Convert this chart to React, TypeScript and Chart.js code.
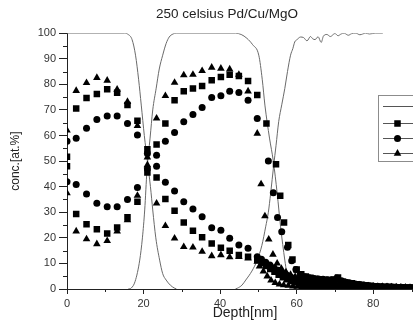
import React, { useEffect, useRef } from 'react';
import { Chart, registerables } from 'chart.js';

Chart.register(...registerables);

const FONT = '"Liberation Sans", Arial, Helvetica, sans-serif';

// ---- Depth grid of the marker series (nm) ----
const depth = [0, 2.4, 5.1, 7.8, 10.5, 13.1, 15.8, 18.4, 21.0, 23.4, 25.7, 28.1, 30.5, 32.9, 35.3, 37.8, 40.2, 42.5, 44.9, 47.3, 49.7];

// triangles
const triPd = [62, 77.5, 80.6, 82.6, 81.5, 78.0, 73.2, 63.8, 51.5, 33.5, 24.7, 19.8, 16.5, 16.3, 14.6, 12.9, 13.3, 12.5, 12.6, 12.0, 10.7];
const triCu = [37.5, 22.6, 19.5, 17.6, 18.8, 22.6, 27.0, 36.5, 48.5, 66.7, 75.5, 80.7, 83.6, 83.8, 85.3, 86.6, 86.2, 85.9, 83.8, 77.3, 60.8];
const triCuTailDepth = [50.7, 51.7, 52.7, 53.8, 54.9, 56.0, 57.2, 58.4, 59.6, 60.8, 62.0, 63.2, 64.4, 65.6, 66.8, 68.0, 69.2, 70.4, 71.6, 72.8, 74.0, 75.2, 76.4, 77.6, 78.8, 80.0, 81.2, 82.4, 83.6, 84.8, 86.0, 87.2, 88.4, 89.6, 90.8, 92.0];
const triCuTail = [41, 28.5, 19.4, 13.5, 10.0, 8.0, 6.6, 5.6, 4.8, 4.3, 3.9, 3.6, 3.4, 3.5, 3.2, 3.0, 3.1, 3.3, 2.6, 2.2, 1.9, 1.7, 1.5, 1.3, 1.1, 1.0, 0.9, 0.9, 0.8, 0.7, 0.7, 0.6, 0.6, 0.5, 0.5, 0.4];
const triPdTailDepth = [50.3, 51.3, 52.3, 53.3, 54.4, 55.5, 56.6, 57.8, 59.0, 60.2, 61.4, 62.6, 63.8, 65.0, 66.2, 67.4, 68.6, 69.8, 71.0, 72.2, 73.4, 74.6, 75.8, 77.0, 78.2, 79.4, 80.6, 81.8, 83.0, 84.2, 85.4, 86.6, 87.8, 89.0, 90.2, 91.4];
const triPdTail = [8.9, 6.9, 5.0, 3.4, 2.4, 1.8, 1.5, 1.3, 1.1, 1.0, 0.9, 0.9, 0.8, 0.8, 0.7, 0.7, 0.6, 0.7, 0.6, 0.5, 0.5, 0.5, 0.4, 0.4, 0.4, 0.3, 0.3, 0.3, 0.3, 0.2, 0.2, 0.2, 0.2, 0.2, 0.1, 0.1];

// squares
const sqPd = [51.7, 70.6, 74.7, 76.2, 78.1, 76.7, 71.9, 65.8, 54.6, 43.6, 35.2, 30.6, 26.0, 22.8, 20.2, 17.8, 16.1, 15.0, 13.3, 12.6, 11.3];
const sqCu = [48.0, 29.3, 25.3, 23.4, 21.7, 24.0, 28.0, 34.1, 45.5, 56.5, 64.7, 73.8, 77.3, 78.4, 79.4, 81.6, 82.9, 83.8, 83.3, 81.3, 75.8];
const sqCuTailDepth = [52.1, 54.6, 55.7, 56.7, 57.8, 58.9, 60.0, 61.2, 62.4, 63.6, 64.8, 66.0, 67.2, 68.4, 69.6, 70.8, 72.0, 73.2, 74.4, 75.6, 76.8, 78.0, 79.2, 80.4, 81.6, 82.8, 84.0, 85.2, 86.4, 87.6, 88.8, 90.0, 91.2, 92.4];
const sqCuTail = [64.7, 48.8, 36.5, 26.0, 17.2, 11.5, 7.6, 5.8, 4.9, 4.4, 4.0, 3.8, 3.6, 3.5, 3.7, 4.5, 2.9, 2.5, 2.2, 1.9, 1.7, 1.5, 1.3, 1.1, 1.0, 0.9, 0.9, 0.8, 0.7, 0.7, 0.6, 0.6, 0.5, 0.5];
const sqPdTailDepth = [50.9, 52.0, 53.1, 54.2, 55.3, 56.4, 57.5, 58.6, 59.8, 61.0, 62.2, 63.4, 64.6, 65.8, 67.0, 68.2, 69.4, 70.6, 71.8, 73.0, 74.2, 75.4, 76.6, 77.8, 79.0, 80.2, 81.4, 82.6, 83.8, 85.0, 86.2, 87.4, 88.6, 89.8, 91.0, 92.2];
const sqPdTail = [10.2, 9.0, 7.8, 6.7, 5.6, 4.6, 3.8, 3.1, 2.6, 2.2, 1.9, 1.7, 1.6, 1.5, 1.4, 1.3, 1.2, 1.2, 1.0, 0.9, 0.8, 0.8, 0.7, 0.6, 0.6, 0.5, 0.5, 0.5, 0.4, 0.4, 0.3, 0.3, 0.3, 0.3, 0.2, 0.2];

// circles
const ciPd = [57.8, 58.9, 62.8, 66.3, 67.6, 67.6, 64.7, 60.2, 53.0, 48.0, 41.7, 38.3, 34.1, 31.3, 28.2, 23.9, 23.0, 19.8, 17.2, 15.9, 12.6];
const ciCu = [41.9, 40.9, 37.1, 33.5, 32.2, 32.2, 35.0, 39.7, 47.0, 52.3, 57.8, 61.2, 65.4, 68.2, 71.0, 74.9, 75.5, 77.3, 76.8, 73.8, 66.7];
const ciCuTailDepth = [52.6, 53.9, 55.0, 56.1, 57.6, 58.7, 59.8, 60.9, 62.1, 63.3, 64.5, 65.7, 66.9, 68.1, 69.3, 70.5, 71.7, 72.9, 74.1, 75.3, 76.5, 77.7, 78.9, 80.1, 81.3, 82.5, 83.7, 84.9, 86.1, 87.3, 88.5, 89.7, 90.9, 92.1];
const ciCuTail = [50.0, 37.6, 28.0, 22.4, 16.3, 11.0, 7.6, 5.6, 4.8, 4.4, 4.1, 3.9, 3.8, 3.6, 3.5, 4.3, 3.2, 2.6, 2.2, 2.0, 1.8, 1.5, 1.3, 1.1, 1.0, 0.9, 0.9, 0.8, 0.7, 0.7, 0.6, 0.6, 0.5, 0.5];
const ciPdTailDepth = [50.8, 51.9, 53.0, 54.1, 55.2, 56.3, 57.4, 58.5, 59.6, 60.7, 61.8, 62.9, 64.0, 65.2, 66.4, 67.6, 68.8, 70.0, 71.2, 72.4, 73.6, 74.8, 76.0, 77.2, 78.4, 79.6, 80.8, 82.0, 83.2, 84.4, 85.6, 86.8, 88.0, 89.2, 90.4, 91.6];
const ciPdTail = [11.6, 10.5, 9.4, 8.3, 7.3, 6.3, 5.4, 4.6, 3.9, 3.4, 3.0, 2.7, 2.5, 2.3, 2.1, 2.0, 1.9, 1.8, 1.6, 1.5, 1.3, 1.2, 1.1, 1.0, 0.9, 0.8, 0.7, 0.7, 0.6, 0.6, 0.5, 0.5, 0.4, 0.4, 0.3, 0.3];

// ---- Profile lines ----
const pdLineDepth = [0, 15, 16, 17, 17.9, 18.7, 19.4, 20.2, 21.0, 21.8, 22.4, 23.2, 24.2, 25.0, 25.9, 27.0, 28.0, 28.6];
const pdLineConc = [100, 100, 99.5, 97.5, 91.4, 82, 71.9, 60, 50, 40, 30.9, 20, 11.3, 6, 3.5, 1.5, 0.4, 0];
const cuLineDepth = [16, 16.8, 17.8, 19.0, 19.7, 20.3, 20.9, 21.7, 22.4, 23.3, 24.1, 25.0, 25.9, 26.7, 27.7, 28.5, 44.0, 45.5, 47.0, 48.5, 50.1, 51.0, 51.7, 52.9, 53.9, 54.9, 55.8, 56.9, 57.9, 59.0, 60.0];
const cuLineConc = [0, 0.4, 3, 11.3, 20, 30.9, 46.5, 59, 70, 78.5, 86, 91.4, 96, 98.5, 99.7, 100, 100, 99.5, 98, 95.5, 91.4, 82, 71.9, 59, 50, 37.5, 24.3, 11.3, 2.3, 0.5, 0];
const mgoLineDepth = [44, 44.5, 45.7, 46.7, 48.3, 49.7, 50.9, 51.9, 52.6, 53.2, 54.0, 54.6, 55.3, 56.1, 56.9, 57.6, 58.4, 59.0, 59.5, 60.1, 61.0, 61.8, 62.7, 63.6, 64.2, 64.8, 65.6, 66.4, 67.0, 67.9, 68.8, 70.0, 70.8, 71.6, 72.4, 73.5, 74.3, 75.5, 76.5, 78.0, 79.0, 80.5, 82.5];
const mgoLineConc = [0, 0.3, 1.5, 3.5, 7, 11.3, 17, 24.3, 30, 37.4, 48.4, 56, 65.4, 72, 78.4, 85, 91.4, 94, 96.6, 97.5, 98.5, 98.3, 97, 98.7, 97.8, 97.5, 98.6, 96.4, 98.9, 99.5, 98.7, 99.9, 99, 99.7, 100, 99.2, 99.8, 100, 99.4, 100, 99.7, 100, 100];

const yTicks = [0, 10, 20, 30, 40, 50, 60, 70, 80, 90, 100];
const yMinorTicks = [5, 15, 25, 35, 45, 55, 65, 75, 85, 95];
const xMinorTicks = [10, 30, 50, 70, 90];

const R_TRI = 4.4;
const R_RECT = 4.6;
const R_CIRC = 3.5;

const pts = (xs: number[], ys: number[]) => xs.map((x, i) => ({ x, y: ys[i] }));

const markerSet = (label: string, data: { x: number; y: number }[], style: string, r: number) => ({
  label,
  data,
  showLine: false,
  pointStyle: style,
  pointRadius: r,
  pointHoverRadius: r,
  pointBackgroundColor: '#000',
  pointBorderColor: '#000',
  pointBorderWidth: 0,
  borderColor: '#000',
  backgroundColor: '#000',
});

const lineSet = (label: string, data: { x: number; y: number }[]) => ({
  label,
  data,
  showLine: true,
  pointRadius: 0,
  borderColor: '#6a6a6a',
  borderWidth: 1,
  cubicInterpolationMode: 'monotone',
  fill: false,
});

const minorTicksPlugin = {
  id: 'minorTicks',
  afterDraw(chart: any) {
    const { ctx, scales, chartArea } = chart;
    ctx.save();
    ctx.strokeStyle = '#222';
    ctx.lineWidth = 1;
    yMinorTicks.forEach((v) => {
      const y = Math.round(scales.y.getPixelForValue(v)) + 0.5;
      ctx.beginPath();
      ctx.moveTo(chartArea.left - 4, y);
      ctx.lineTo(chartArea.left, y);
      ctx.stroke();
    });
    xMinorTicks.forEach((v) => {
      const x = Math.round(scales.x.getPixelForValue(v)) + 0.5;
      ctx.beginPath();
      ctx.moveTo(x, chartArea.bottom);
      ctx.lineTo(x, chartArea.bottom + 3);
      ctx.stroke();
    });
    ctx.restore();
  },
};

const legendBoxPlugin = {
  id: 'legendBox',
  afterDraw(chart: any) {
    const ctx = chart.ctx;
    const left = 378.5;
    const top = 95.5;
    ctx.save();
    ctx.fillStyle = '#fff';
    ctx.fillRect(left, top, 74, 66);
    ctx.strokeStyle = '#8c8c8c';
    ctx.lineWidth = 1;
    ctx.strokeRect(left, top, 74, 66);
    const rows = [106, 123, 138, 153];
    ctx.strokeStyle = '#555';
    rows.forEach((y) => {
      ctx.beginPath();
      ctx.moveTo(383, y + 0.5);
      ctx.lineTo(420, y + 0.5);
      ctx.stroke();
    });
    const mx = 397.5;
    ctx.fillStyle = '#000';
    const s = R_RECT * Math.SQRT1_2;
    ctx.fillRect(mx - s, 123.5 - s, 2 * s, 2 * s);
    ctx.beginPath();
    ctx.arc(mx, 138.5, R_CIRC, 0, Math.PI * 2);
    ctx.fill();
    ctx.beginPath();
    const ty = 153.5;
    ctx.moveTo(mx, ty - R_TRI);
    ctx.lineTo(mx + R_TRI * Math.sin((2 * Math.PI) / 3), ty + R_TRI / 2);
    ctx.lineTo(mx - R_TRI * Math.sin((2 * Math.PI) / 3), ty + R_TRI / 2);
    ctx.closePath();
    ctx.fill();
    ctx.restore();
  },
};

export default function App() {
  const ref = useRef<HTMLCanvasElement>(null);

  useEffect(() => {
    const canvas = ref.current;
    if (!canvas) return;
    const datasets: any[] = [
      markerSet('triangle Pd', [...pts(depth, triPd), ...pts(triPdTailDepth, triPdTail)], 'triangle', R_TRI),
      markerSet('triangle Cu', [...pts(depth, triCu), ...pts(triCuTailDepth, triCuTail)], 'triangle', R_TRI),
      markerSet('square Pd', [...pts(depth, sqPd), ...pts(sqPdTailDepth, sqPdTail)], 'rect', R_RECT),
      markerSet('square Cu', [...pts(depth, sqCu), ...pts(sqCuTailDepth, sqCuTail)], 'rect', R_RECT),
      markerSet('circle Pd', [...pts(depth, ciPd), ...pts(ciPdTailDepth, ciPdTail)], 'circle', R_CIRC),
      markerSet('circle Cu', [...pts(depth, ciCu), ...pts(ciCuTailDepth, ciCuTail)], 'circle', R_CIRC),
      lineSet('Pd', pts(pdLineDepth, pdLineConc)),
      lineSet('Cu', pts(cuLineDepth, cuLineConc)),
      lineSet('MgO', pts(mgoLineDepth, mgoLineConc)),
    ];

    const chart = new Chart(canvas, {
      type: 'scatter',
      data: { datasets },
      plugins: [minorTicksPlugin, legendBoxPlugin],
      options: {
        responsive: false,
        animation: false,
        events: [],
        devicePixelRatio: 1,
        layout: { padding: { left: 0, right: 0, top: 0, bottom: 0 } },
        plugins: {
          legend: { display: false },
          tooltip: { enabled: false },
          title: {
            display: true,
            text: '250 celsius Pd/Cu/MgO',
            color: '#222',
            font: { family: FONT, size: 13.5, weight: 'normal' },
            padding: { top: 6, bottom: 11 },
          },
        },
        scales: {
          x: {
            type: 'linear',
            min: 0,
            max: 93,
            ticks: {
              stepSize: 20,
              includeBounds: false,
              maxRotation: 0,
              padding: 3,
              color: '#333',
              font: { family: FONT, size: 11 },
            },
            grid: { drawOnChartArea: false, drawTicks: true, tickLength: 5, color: '#222', tickColor: '#222' },
            border: { display: true, color: '#222', width: 1 },
            title: {
              display: true,
              text: 'Depth[nm]',
              color: '#222',
              font: { family: FONT, size: 14 },
              padding: { top: 0, bottom: 13.6 },
            },
            afterFit: (s: any) => {
              s.height = 46;
              s.paddingRight = 31;
            },
          },
          y: {
            type: 'linear',
            min: 0,
            max: 100,
            afterBuildTicks: (s: any) => {
              s.ticks = yTicks.map((v) => ({ value: v }));
            },
            ticks: {
              padding: 3,
              color: '#333',
              font: { family: FONT, size: 11 },
            },
            grid: { drawOnChartArea: false, drawTicks: true, tickLength: 8, color: '#222', tickColor: '#222' },
            border: { display: true, color: '#222', width: 1 },
            title: {
              display: true,
              text: 'conc.[at.%]',
              color: '#222',
              font: { family: FONT, size: 12 },
              padding: { top: 8, bottom: 0 },
            },
            afterFit: (s: any) => {
              s.width = 67;
            },
          },
        },
      } as any,
    });
    return () => chart.destroy();
  }, []);

  return (
    <div
      style={{
        position: 'fixed',
        left: 0,
        top: 0,
        width: 413,
        height: 335,
        overflow: 'hidden',
        background: '#fff',
      }}
    >
      <canvas ref={ref} width={454} height={335} style={{ width: 454, height: 335, display: 'block' }} />
    </div>
  );
}
